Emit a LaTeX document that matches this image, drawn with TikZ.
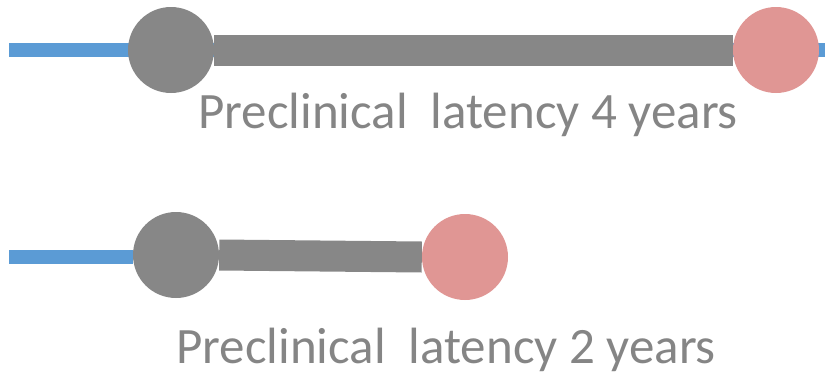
\documentclass[tikz,border=0pt]{standalone}
\usepackage{fontspec}
\setmainfont{Carlito}
\usetikzlibrary{arrows.meta}
\definecolor{dotgray}{HTML}{878787}
\definecolor{dotpink}{HTML}{E09694}
\definecolor{lineblue}{HTML}{5B9BD5}
\definecolor{textgray}{HTML}{858585}

\begin{document}
\begin{tikzpicture}[x=1pt, y=-1pt,
    onset/.style = {circle, fill = dotgray, minimum size = 86pt, inner sep = 0pt},
    diag/.style = {circle, fill = dotpink, minimum size = 86pt, inner sep = 0pt},
    latency/.style = {draw = dotgray, line width = 31pt},
    timeline/.style = {draw = lineblue, line width = 14pt},
    caption/.style = {text = textgray, font = \fontsize{51}{51}\selectfont,
        anchor = base west, inner sep = 0pt}]
\useasboundingbox (0,0) rectangle (825,378);
% upper row
\coordinate (s1) at (9,50);
\coordinate (e1) at (830,50);
\draw[timeline] (s1) -- (e1);
\node[onset] (o1) at (171,50) {};
\node[diag] (d1) at (776,50) {};
\draw[latency] (o1.east) -- (d1.west);
\node[caption] (c1) at (198,128) {Preclinical\ \ latency 4 years};
% lower row
\coordinate (s2) at (9,257);
\node[onset] (o2) at (176,255) {};
\draw[timeline] (s2) -- (s2 -| o2.west);
\node[diag] (d2) at (465,257) {};
\draw[latency] (o2.east) -- (d2.west);
\node[caption] (c2) at (176,363) {Preclinical\ \ latency 2 years};
\end{tikzpicture}
\end{document}
